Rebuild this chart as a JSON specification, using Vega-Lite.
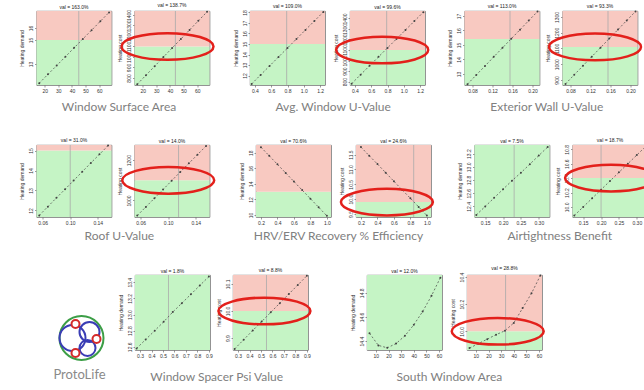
{
"$schema":"https://vega.github.io/schema/vega-lite/v6.json",
"background":"white",
"padding":{"left":18.5,"top":3,"right":0,"bottom":0},
"autosize":{"type":"pad"},
"config":{
 "font":"Liberation Sans",
 "view":{"stroke":"#555","strokeWidth":0.8},
 "axis":{"labelFontSize":5,"titleFontSize":5,"tickSize":2,"tickWidth":0.6,"grid":false,"domain":false,"labelColor":"#333","titleColor":"#333","tickColor":"#555","titleFontWeight":"normal","labelPadding":1,"titlePadding":2,"labelFlush":false,"labelOverlap":false,"tickCount":20,"labelFont":"Liberation Sans","titleFont":"Liberation Sans"},
 "axisY":{"labelAngle":-90,"labelAlign":"center","labelBaseline":"bottom","minExtent":10,"maxExtent":10},
 "title":{"fontSize":5,"fontWeight":"normal","offset":1,"color":"#222","font":"Liberation Sans"}
},
"datasets":{
"d":[
{"id":"p1","k":"b","band":"b","y":11.25,"y2":15},{"id":"p1","k":"b","band":"a","y":15,"y2":17.42},
{"id":"p2","k":"b","band":"b","y":733,"y2":1100},{"id":"p2","k":"b","band":"a","y":1100,"y2":1438},
{"id":"p3","k":"b","band":"b","y":11.1,"y2":15},{"id":"p3","k":"b","band":"a","y":15,"y2":18.14},
{"id":"p4","k":"b","band":"b","y":767,"y2":1100},{"id":"p4","k":"b","band":"a","y":1100,"y2":1471},
{"id":"p5","k":"b","band":"b","y":12.24,"y2":15.41},{"id":"p5","k":"b","band":"a","y":15.41,"y2":17.34},
{"id":"p6","k":"b","band":"b","y":868,"y2":1110},{"id":"p6","k":"b","band":"a","y":1110,"y2":1338},
{"id":"p7","k":"b","band":"b","y":11.67,"y2":15},{"id":"p7","k":"b","band":"a","y":15,"y2":15.28},
{"id":"p8","k":"b","band":"b","y":918,"y2":1100},{"id":"p8","k":"b","band":"a","y":1100,"y2":1275},
{"id":"p9","k":"b","band":"b","y":9.75,"y2":13},{"id":"p9","k":"b","band":"a","y":13,"y2":18.98},
{"id":"p10","k":"b","band":"b","y":9.4,"y2":9.9},{"id":"p10","k":"b","band":"a","y":9.9,"y2":11.82},
{"id":"p11","k":"b","band":"b","y":12.24,"y2":13.33},
{"id":"p12","k":"b","band":"b","y":9.86,"y2":10.4},{"id":"p12","k":"b","band":"a","y":10.4,"y2":10.86},
{"id":"p13","k":"b","band":"b","y":12.56,"y2":13.49},
{"id":"p14","k":"b","band":"b","y":9.856,"y2":10.0},{"id":"p14","k":"b","band":"a","y":10.0,"y2":10.133},
{"id":"p15","k":"b","band":"b","y":14.327,"y2":14.947},
{"id":"p16","k":"b","band":"b","y":9.862,"y2":10.0},{"id":"p16","k":"b","band":"a","y":10.0,"y2":10.415},
{"id":"p1","k":"v","x":45},{"id":"p2","k":"v","x":44},{"id":"p3","k":"v","x":0.79},{"id":"p4","k":"v","x":0.79},
{"id":"p5","k":"v","x":0.155},{"id":"p6","k":"v","x":0.155},{"id":"p7","k":"v","x":0.1},{"id":"p8","k":"v","x":0.115},
{"id":"p10","k":"v","x":0.84},{"id":"p11","k":"v","x":0.231},{"id":"p12","k":"v","x":0.2},{"id":"p13","k":"v","x":0.548},
{"id":"p14","k":"v","x":0.548},{"id":"p16","k":"v","x":33.5},
{"id":"p2","k":"e","x":38.2,"y":1100},{"id":"p4","k":"e","x":0.735,"y":1100},{"id":"p6","k":"e","x":0.129,"y":1110},
{"id":"p8","k":"e","x":0.1,"y":1100},{"id":"p10","k":"e","x":0.515,"y":9.9},{"id":"p12","k":"e","x":0.228,"y":10.4},
{"id":"p14","k":"e","x":0.53,"y":10.0},{"id":"p16","k":"e","x":27.3,"y":10.0},
{"id":"p1","k":"c","x":16,"y":11.4},{"id":"p1","k":"c","x":22.4,"y":12.14},{"id":"p1","k":"c","x":28.8,"y":12.87},{"id":"p1","k":"c","x":35.2,"y":13.61},{"id":"p1","k":"c","x":41.6,"y":14.35},{"id":"p1","k":"c","x":48,"y":15.09},{"id":"p1","k":"c","x":54.4,"y":15.82},{"id":"p1","k":"c","x":60.8,"y":16.56},{"id":"p1","k":"c","x":67.2,"y":17.3},
{"id":"p2","k":"c","x":16,"y":740},{"id":"p2","k":"c","x":22.4,"y":826},{"id":"p2","k":"c","x":28.8,"y":912},{"id":"p2","k":"c","x":35.2,"y":999},{"id":"p2","k":"c","x":41.6,"y":1085},{"id":"p2","k":"c","x":48,"y":1171},{"id":"p2","k":"c","x":54.4,"y":1258},{"id":"p2","k":"c","x":60.8,"y":1344},{"id":"p2","k":"c","x":67.2,"y":1430},
{"id":"p3","k":"c","x":0.36,"y":11.2},{"id":"p3","k":"c","x":0.47,"y":12.06},{"id":"p3","k":"c","x":0.58,"y":12.91},{"id":"p3","k":"c","x":0.69,"y":13.77},{"id":"p3","k":"c","x":0.8,"y":14.62},{"id":"p3","k":"c","x":0.91,"y":15.48},{"id":"p3","k":"c","x":1.02,"y":16.34},{"id":"p3","k":"c","x":1.13,"y":17.19},{"id":"p3","k":"c","x":1.24,"y":18.05},
{"id":"p4","k":"c","x":0.36,"y":780},{"id":"p4","k":"c","x":0.47,"y":865},{"id":"p4","k":"c","x":0.58,"y":950},{"id":"p4","k":"c","x":0.69,"y":1035},{"id":"p4","k":"c","x":0.8,"y":1120},{"id":"p4","k":"c","x":0.91,"y":1205},{"id":"p4","k":"c","x":1.02,"y":1290},{"id":"p4","k":"c","x":1.13,"y":1375},{"id":"p4","k":"c","x":1.24,"y":1460},
{"id":"p5","k":"c","x":0.07,"y":12.3},{"id":"p5","k":"c","x":0.0875,"y":12.93},{"id":"p5","k":"c","x":0.105,"y":13.55},{"id":"p5","k":"c","x":0.1225,"y":14.18},{"id":"p5","k":"c","x":0.14,"y":14.8},{"id":"p5","k":"c","x":0.1575,"y":15.43},{"id":"p5","k":"c","x":0.175,"y":16.05},{"id":"p5","k":"c","x":0.1925,"y":16.68},{"id":"p5","k":"c","x":0.21,"y":17.3},
{"id":"p6","k":"c","x":0.07,"y":875},{"id":"p6","k":"c","x":0.0875,"y":933},{"id":"p6","k":"c","x":0.105,"y":990},{"id":"p6","k":"c","x":0.1225,"y":1048},{"id":"p6","k":"c","x":0.14,"y":1105},{"id":"p6","k":"c","x":0.1575,"y":1163},{"id":"p6","k":"c","x":0.175,"y":1220},{"id":"p6","k":"c","x":0.1925,"y":1278},{"id":"p6","k":"c","x":0.21,"y":1335},
{"id":"p7","k":"c","x":0.055,"y":11.75},{"id":"p7","k":"c","x":0.0675,"y":12.19},{"id":"p7","k":"c","x":0.08,"y":12.63},{"id":"p7","k":"c","x":0.0925,"y":13.06},{"id":"p7","k":"c","x":0.105,"y":13.5},{"id":"p7","k":"c","x":0.1175,"y":13.94},{"id":"p7","k":"c","x":0.13,"y":14.38},{"id":"p7","k":"c","x":0.1425,"y":14.81},{"id":"p7","k":"c","x":0.155,"y":15.25},
{"id":"p8","k":"c","x":0.055,"y":925},{"id":"p8","k":"c","x":0.0675,"y":968},{"id":"p8","k":"c","x":0.08,"y":1011},{"id":"p8","k":"c","x":0.0925,"y":1054},{"id":"p8","k":"c","x":0.105,"y":1098},{"id":"p8","k":"c","x":0.1175,"y":1141},{"id":"p8","k":"c","x":0.13,"y":1184},{"id":"p8","k":"c","x":0.1425,"y":1227},{"id":"p8","k":"c","x":0.155,"y":1270},
{"id":"p9","k":"c","x":0.2,"y":18.7},{"id":"p9","k":"c","x":0.3,"y":17.6},{"id":"p9","k":"c","x":0.4,"y":16.5},{"id":"p9","k":"c","x":0.5,"y":15.4},{"id":"p9","k":"c","x":0.6,"y":14.3},{"id":"p9","k":"c","x":0.7,"y":13.2},{"id":"p9","k":"c","x":0.8,"y":12.1},{"id":"p9","k":"c","x":0.9,"y":11.0},{"id":"p9","k":"c","x":1.0,"y":9.9},
{"id":"p10","k":"c","x":0.2,"y":11.75},{"id":"p10","k":"c","x":0.3,"y":11.46},{"id":"p10","k":"c","x":0.4,"y":11.18},{"id":"p10","k":"c","x":0.5,"y":10.89},{"id":"p10","k":"c","x":0.6,"y":10.6},{"id":"p10","k":"c","x":0.7,"y":10.31},{"id":"p10","k":"c","x":0.8,"y":10.03},{"id":"p10","k":"c","x":0.9,"y":9.74},{"id":"p10","k":"c","x":1.0,"y":9.45},
{"id":"p11","k":"c","x":0.125,"y":12.27},{"id":"p11","k":"c","x":0.15,"y":12.4},{"id":"p11","k":"c","x":0.175,"y":12.53},{"id":"p11","k":"c","x":0.2,"y":12.66},{"id":"p11","k":"c","x":0.225,"y":12.79},{"id":"p11","k":"c","x":0.25,"y":12.91},{"id":"p11","k":"c","x":0.275,"y":13.04},{"id":"p11","k":"c","x":0.3,"y":13.17},{"id":"p11","k":"c","x":0.325,"y":13.3},
{"id":"p12","k":"c","x":0.125,"y":9.88},{"id":"p12","k":"c","x":0.15,"y":10.0},{"id":"p12","k":"c","x":0.175,"y":10.12},{"id":"p12","k":"c","x":0.2,"y":10.24},{"id":"p12","k":"c","x":0.225,"y":10.36},{"id":"p12","k":"c","x":0.25,"y":10.48},{"id":"p12","k":"c","x":0.275,"y":10.6},{"id":"p12","k":"c","x":0.3,"y":10.72},{"id":"p12","k":"c","x":0.325,"y":10.84},
{"id":"p13","k":"c","x":0.27,"y":12.58},{"id":"p13","k":"c","x":0.349,"y":12.69},{"id":"p13","k":"c","x":0.428,"y":12.8},{"id":"p13","k":"c","x":0.506,"y":12.91},{"id":"p13","k":"c","x":0.585,"y":13.03},{"id":"p13","k":"c","x":0.664,"y":13.14},{"id":"p13","k":"c","x":0.743,"y":13.25},{"id":"p13","k":"c","x":0.821,"y":13.36},{"id":"p13","k":"c","x":0.9,"y":13.47},
{"id":"p14","k":"c","x":0.27,"y":9.86},{"id":"p14","k":"c","x":0.349,"y":9.894},{"id":"p14","k":"c","x":0.428,"y":9.928},{"id":"p14","k":"c","x":0.506,"y":9.961},{"id":"p14","k":"c","x":0.585,"y":9.995},{"id":"p14","k":"c","x":0.664,"y":10.029},{"id":"p14","k":"c","x":0.743,"y":10.063},{"id":"p14","k":"c","x":0.821,"y":10.096},{"id":"p14","k":"c","x":0.9,"y":10.13},
{"id":"p15","k":"c","x":5,"y":14.465},{"id":"p15","k":"c","x":12,"y":14.365},{"id":"p15","k":"c","x":19,"y":14.345},{"id":"p15","k":"c","x":26,"y":14.38},{"id":"p15","k":"c","x":33,"y":14.445},{"id":"p15","k":"c","x":40,"y":14.535},{"id":"p15","k":"c","x":47,"y":14.645},{"id":"p15","k":"c","x":54,"y":14.775},{"id":"p15","k":"c","x":61,"y":14.925},
{"id":"p16","k":"c","x":5,"y":9.876},{"id":"p16","k":"c","x":12,"y":9.909},{"id":"p16","k":"c","x":19,"y":9.942},{"id":"p16","k":"c","x":26,"y":9.975},{"id":"p16","k":"c","x":33,"y":10.004},{"id":"p16","k":"c","x":40,"y":10.062},{"id":"p16","k":"c","x":47,"y":10.171},{"id":"p16","k":"c","x":54,"y":10.28},{"id":"p16","k":"c","x":61,"y":10.411}
],
"logo":[
{"k":"ring","part":"outer","x":45,"y":63,"r":22},
{"k":"ring","part":"inner","x":36,"y":63,"r":13},
{"k":"ring","part":"inner","x":53,"y":57,"r":10},
{"k":"ring","part":"inner","x":51,"y":73,"r":8},
{"k":"node","part":"node","x":39,"y":49,"r":4},
{"k":"node","part":"node","x":60,"y":64,"r":4},
{"k":"node","part":"node","x":39,"y":78,"r":4},
{"k":"label","x":43,"y":100,"t":"ProtoLife"}
]
},
"vconcat":[
{"vconcat":[
{"hconcat":[
{"title":{"text":"Window Surface Area","orient":"bottom","anchor":"middle","fontSize":12,"font":"Lato","color":"#808080","fontWeight":"normal","offset":8.5},
 "hconcat":[
{"width":75,"height":74,"title":"val = 163.0%","data":{"name":"d"},"transform":[{"filter":"datum.id=='p1'"}],"layer":[
{"transform":[{"filter":"datum.k=='b'"}],"mark":"rect","encoding":{"y":{"field":"y","type":"quantitative","scale":{"domain":[11.25,17.42],"nice":false,"zero":false},"axis":{"values":[13,15,16],"format":"d","labelOverlap":false,"tickCount":20},"title":"Heating demand"},"y2":{"field":"y2"},"color":{"field":"band","type":"nominal","scale":{"domain":["a","b"],"range":["#f8c9c1","#c5f4c5"]},"legend":null}}},
{"transform":[{"filter":"datum.k=='v'"}],"mark":{"type":"rule","color":"#aaa","strokeWidth":0.8},"encoding":{"x":{"field":"x","type":"quantitative","title":null}}},
{"transform":[{"filter":"datum.k=='c'"}],"mark":{"type":"line","color":"#444","strokeWidth":0.7,"strokeDash":[2,2],"point":{"color":"#444","size":4,"filled":true,"opacity":1}},"encoding":{"x":{"field":"x","type":"quantitative","scale":{"domain":[14,69],"nice":false,"zero":false},"axis":{"values":[20,30,40,50,60],"format":"d","labelOverlap":false,"tickCount":20},"title":null},"y":{"field":"y","type":"quantitative","title":"Heating demand"}}}
]},
{"width":75,"height":74,"title":"val = 138.7%","data":{"name":"d"},"transform":[{"filter":"datum.id=='p2'"}],"layer":[
{"transform":[{"filter":"datum.k=='b'"}],"mark":"rect","encoding":{"y":{"field":"y","type":"quantitative","scale":{"domain":[733,1438],"nice":false,"zero":false},"axis":{"values":[800,900,1000,1100,1200,1300,1400],"format":"d","labelOverlap":false,"tickCount":20},"title":"Heating cost"},"y2":{"field":"y2"},"color":{"field":"band","type":"nominal","scale":{"domain":["a","b"],"range":["#f8c9c1","#c5f4c5"]},"legend":null}}},
{"transform":[{"filter":"datum.k=='v'"}],"mark":{"type":"rule","color":"#aaa","strokeWidth":0.8},"encoding":{"x":{"field":"x","type":"quantitative","title":null}}},
{"transform":[{"filter":"datum.k=='c'"}],"mark":{"type":"line","color":"#444","strokeWidth":0.7,"strokeDash":[2,2],"point":{"color":"#444","size":4,"filled":true,"opacity":1}},"encoding":{"x":{"field":"x","type":"quantitative","scale":{"domain":[14,69],"nice":false,"zero":false},"axis":{"values":[20,30,40,50,60],"format":"d","labelOverlap":false,"tickCount":20},"title":null},"y":{"field":"y","type":"quantitative","title":"Heating cost"}}},
{"transform":[{"filter":"datum.k=='e'"}],"mark":{"type":"point","shape":"M-1,0A1,0.29,0,1,1,1,0A1,0.29,0,1,1,-1,0Z","size":8464,"stroke":"#e3201b","strokeWidth":2.5,"filled":false,"opacity":1},"encoding":{"x":{"field":"x","type":"quantitative","title":null},"y":{"field":"y","type":"quantitative","title":"Heating cost"}}}
]}
 ],"spacing":23,"bounds":"flush"},
{"title":{"text":"Avg. Window U-Value","orient":"bottom","anchor":"middle","fontSize":12,"font":"Lato","color":"#808080","fontWeight":"normal","offset":8.5},
 "hconcat":[
{"width":75,"height":74,"title":"val = 109.0%","data":{"name":"d"},"transform":[{"filter":"datum.id=='p3'"}],"layer":[
{"transform":[{"filter":"datum.k=='b'"}],"mark":"rect","encoding":{"y":{"field":"y","type":"quantitative","scale":{"domain":[11.1,18.14],"nice":false,"zero":false},"axis":{"values":[12,13,14,15,16,17,18],"format":"d","labelOverlap":false,"tickCount":20},"title":"Heating demand"},"y2":{"field":"y2"},"color":{"field":"band","type":"nominal","scale":{"domain":["a","b"],"range":["#f8c9c1","#c5f4c5"]},"legend":null}}},
{"transform":[{"filter":"datum.k=='v'"}],"mark":{"type":"rule","color":"#aaa","strokeWidth":0.8},"encoding":{"x":{"field":"x","type":"quantitative","title":null}}},
{"transform":[{"filter":"datum.k=='c'"}],"mark":{"type":"line","color":"#444","strokeWidth":0.7,"strokeDash":[2,2],"point":{"color":"#444","size":4,"filled":true,"opacity":1}},"encoding":{"x":{"field":"x","type":"quantitative","scale":{"domain":[0.34,1.26],"nice":false,"zero":false},"axis":{"values":[0.4,0.6,0.8,1.0,1.2],"format":".1f","labelOverlap":false,"tickCount":20},"title":null},"y":{"field":"y","type":"quantitative","title":"Heating demand"}}}
]},
{"width":75,"height":74,"title":"val = 99.6%","data":{"name":"d"},"transform":[{"filter":"datum.id=='p4'"}],"layer":[
{"transform":[{"filter":"datum.k=='b'"}],"mark":"rect","encoding":{"y":{"field":"y","type":"quantitative","scale":{"domain":[767,1471],"nice":false,"zero":false},"axis":{"values":[800,900,1000,1100,1200,1300,1400],"format":"d","labelOverlap":false,"tickCount":20},"title":"Heating cost"},"y2":{"field":"y2"},"color":{"field":"band","type":"nominal","scale":{"domain":["a","b"],"range":["#f8c9c1","#c5f4c5"]},"legend":null}}},
{"transform":[{"filter":"datum.k=='v'"}],"mark":{"type":"rule","color":"#aaa","strokeWidth":0.8},"encoding":{"x":{"field":"x","type":"quantitative","title":null}}},
{"transform":[{"filter":"datum.k=='c'"}],"mark":{"type":"line","color":"#444","strokeWidth":0.7,"strokeDash":[2,2],"point":{"color":"#444","size":4,"filled":true,"opacity":1}},"encoding":{"x":{"field":"x","type":"quantitative","scale":{"domain":[0.34,1.26],"nice":false,"zero":false},"axis":{"values":[0.4,0.6,0.8,1.0,1.2],"format":".1f","labelOverlap":false,"tickCount":20},"title":null},"y":{"field":"y","type":"quantitative","title":"Heating cost"}}},
{"transform":[{"filter":"datum.k=='e'"}],"mark":{"type":"point","shape":"M-1,0A1,0.29,0,1,1,1,0A1,0.29,0,1,1,-1,0Z","size":8464,"stroke":"#e3201b","strokeWidth":2.5,"filled":false,"opacity":1},"encoding":{"x":{"field":"x","type":"quantitative","title":null},"y":{"field":"y","type":"quantitative","title":"Heating cost"}}}
]}
 ],"spacing":25,"bounds":"flush"},
{"title":{"text":"Exterior Wall U-Value","orient":"bottom","anchor":"middle","fontSize":12,"font":"Lato","color":"#808080","fontWeight":"normal","offset":8.5},
 "hconcat":[
{"width":75,"height":74,"title":"val = 113.0%","data":{"name":"d"},"transform":[{"filter":"datum.id=='p5'"}],"layer":[
{"transform":[{"filter":"datum.k=='b'"}],"mark":"rect","encoding":{"y":{"field":"y","type":"quantitative","scale":{"domain":[12.24,17.34],"nice":false,"zero":false},"axis":{"values":[13,14,15,16,17],"format":"d","labelOverlap":false,"tickCount":20},"title":"Heating demand"},"y2":{"field":"y2"},"color":{"field":"band","type":"nominal","scale":{"domain":["a","b"],"range":["#f8c9c1","#c5f4c5"]},"legend":null}}},
{"transform":[{"filter":"datum.k=='v'"}],"mark":{"type":"rule","color":"#aaa","strokeWidth":0.8},"encoding":{"x":{"field":"x","type":"quantitative","title":null}}},
{"transform":[{"filter":"datum.k=='c'"}],"mark":{"type":"line","color":"#444","strokeWidth":0.7,"strokeDash":[2,2],"point":{"color":"#444","size":4,"filled":true,"opacity":1}},"encoding":{"x":{"field":"x","type":"quantitative","scale":{"domain":[0.064,0.214],"nice":false,"zero":false},"axis":{"values":[0.08,0.12,0.16,0.2],"format":".2f","labelOverlap":false,"tickCount":20},"title":null},"y":{"field":"y","type":"quantitative","title":"Heating demand"}}}
]},
{"width":75,"height":74,"title":"val = 93.3%","data":{"name":"d"},"transform":[{"filter":"datum.id=='p6'"}],"layer":[
{"transform":[{"filter":"datum.k=='b'"}],"mark":"rect","encoding":{"y":{"field":"y","type":"quantitative","scale":{"domain":[868,1338],"nice":false,"zero":false},"axis":{"values":[900,1000,1100,1200,1300],"format":"d","labelOverlap":false,"tickCount":20},"title":"Heating cost"},"y2":{"field":"y2"},"color":{"field":"band","type":"nominal","scale":{"domain":["a","b"],"range":["#f8c9c1","#c5f4c5"]},"legend":null}}},
{"transform":[{"filter":"datum.k=='v'"}],"mark":{"type":"rule","color":"#aaa","strokeWidth":0.8},"encoding":{"x":{"field":"x","type":"quantitative","title":null}}},
{"transform":[{"filter":"datum.k=='c'"}],"mark":{"type":"line","color":"#444","strokeWidth":0.7,"strokeDash":[2,2],"point":{"color":"#444","size":4,"filled":true,"opacity":1}},"encoding":{"x":{"field":"x","type":"quantitative","scale":{"domain":[0.064,0.214],"nice":false,"zero":false},"axis":{"values":[0.08,0.12,0.16,0.2],"format":".2f","labelOverlap":false,"tickCount":20},"title":null},"y":{"field":"y","type":"quantitative","title":"Heating cost"}}},
{"transform":[{"filter":"datum.k=='e'"}],"mark":{"type":"point","shape":"M-1,0A1,0.29,0,1,1,1,0A1,0.29,0,1,1,-1,0Z","size":8464,"stroke":"#e3201b","strokeWidth":2.5,"filled":false,"opacity":1},"encoding":{"x":{"field":"x","type":"quantitative","title":null},"y":{"field":"y","type":"quantitative","title":"Heating cost"}}}
]}
 ],"spacing":23,"bounds":"flush"}
],"spacing":12.5},
{"hconcat":[
{"title":{"text":"Roof U-Value","orient":"bottom","anchor":"middle","fontSize":12,"font":"Lato","color":"#808080","fontWeight":"normal","offset":5.5},
 "hconcat":[
{"width":75,"height":72,"title":"val = 31.0%","data":{"name":"d"},"transform":[{"filter":"datum.id=='p7'"}],"layer":[
{"transform":[{"filter":"datum.k=='b'"}],"mark":"rect","encoding":{"y":{"field":"y","type":"quantitative","scale":{"domain":[11.67,15.28],"nice":false,"zero":false},"axis":{"values":[12,13,14,15],"format":"d","labelOverlap":false,"tickCount":20},"title":"Heating demand"},"y2":{"field":"y2"},"color":{"field":"band","type":"nominal","scale":{"domain":["a","b"],"range":["#f8c9c1","#c5f4c5"]},"legend":null}}},
{"transform":[{"filter":"datum.k=='v'"}],"mark":{"type":"rule","color":"#aaa","strokeWidth":0.8},"encoding":{"x":{"field":"x","type":"quantitative","title":null}}},
{"transform":[{"filter":"datum.k=='c'"}],"mark":{"type":"line","color":"#444","strokeWidth":0.7,"strokeDash":[2,2],"point":{"color":"#444","size":4,"filled":true,"opacity":1}},"encoding":{"x":{"field":"x","type":"quantitative","scale":{"domain":[0.051,0.16],"nice":false,"zero":false},"axis":{"values":[0.06,0.1,0.14],"format":".2f","labelOverlap":false,"tickCount":20},"title":null},"y":{"field":"y","type":"quantitative","title":"Heating demand"}}}
]},
{"width":75,"height":72,"title":"val = 14.0%","data":{"name":"d"},"transform":[{"filter":"datum.id=='p8'"}],"layer":[
{"transform":[{"filter":"datum.k=='b'"}],"mark":"rect","encoding":{"y":{"field":"y","type":"quantitative","scale":{"domain":[918,1275],"nice":false,"zero":false},"axis":{"values":[1000,1200],"format":"d","labelOverlap":false,"tickCount":20},"title":"Heating cost"},"y2":{"field":"y2"},"color":{"field":"band","type":"nominal","scale":{"domain":["a","b"],"range":["#f8c9c1","#c5f4c5"]},"legend":null}}},
{"transform":[{"filter":"datum.k=='v'"}],"mark":{"type":"rule","color":"#aaa","strokeWidth":0.8},"encoding":{"x":{"field":"x","type":"quantitative","title":null}}},
{"transform":[{"filter":"datum.k=='c'"}],"mark":{"type":"line","color":"#444","strokeWidth":0.7,"strokeDash":[2,2],"point":{"color":"#444","size":4,"filled":true,"opacity":1}},"encoding":{"x":{"field":"x","type":"quantitative","scale":{"domain":[0.051,0.16],"nice":false,"zero":false},"axis":{"values":[0.06,0.1,0.14],"format":".2f","labelOverlap":false,"tickCount":20},"title":null},"y":{"field":"y","type":"quantitative","title":"Heating cost"}}},
{"transform":[{"filter":"datum.k=='e'"}],"mark":{"type":"point","shape":"M-1,0A1,0.29,0,1,1,1,0A1,0.29,0,1,1,-1,0Z","size":8464,"stroke":"#e3201b","strokeWidth":2.5,"filled":false,"opacity":1},"encoding":{"x":{"field":"x","type":"quantitative","title":null},"y":{"field":"y","type":"quantitative","title":"Heating cost"}}}
]}
 ],"spacing":23,"bounds":"flush"},
{"title":{"text":"HRV/ERV Recovery % Efficiency","orient":"bottom","anchor":"middle","fontSize":12,"font":"Lato","color":"#808080","fontWeight":"normal","offset":5.5},
 "hconcat":[
{"width":75,"height":72,"title":"val = 70.6%","data":{"name":"d"},"transform":[{"filter":"datum.id=='p9'"}],"layer":[
{"transform":[{"filter":"datum.k=='b'"}],"mark":"rect","encoding":{"y":{"field":"y","type":"quantitative","scale":{"domain":[9.75,18.98],"nice":false,"zero":false},"axis":{"values":[10,12,14,16,18],"format":"d","labelOverlap":false,"tickCount":20},"title":"Heating demand"},"y2":{"field":"y2"},"color":{"field":"band","type":"nominal","scale":{"domain":["a","b"],"range":["#f8c9c1","#c5f4c5"]},"legend":null}}},
{"transform":[{"filter":"datum.k=='c'"}],"mark":{"type":"line","color":"#444","strokeWidth":0.7,"strokeDash":[2,2],"point":{"color":"#444","size":4,"filled":true,"opacity":1}},"encoding":{"x":{"field":"x","type":"quantitative","scale":{"domain":[0.14,1.05],"nice":false,"zero":false},"axis":{"values":[0.2,0.4,0.6,0.8,1.0],"format":".1f","labelOverlap":false,"tickCount":20},"title":null},"y":{"field":"y","type":"quantitative","title":"Heating demand"}}}
]},
{"width":75,"height":72,"title":"val = 24.6%","data":{"name":"d"},"transform":[{"filter":"datum.id=='p10'"}],"layer":[
{"transform":[{"filter":"datum.k=='b'"}],"mark":"rect","encoding":{"y":{"field":"y","type":"quantitative","scale":{"domain":[9.4,11.82],"nice":false,"zero":false},"axis":{"values":[9.5,10,10.5,11,11.5],"format":".1f","labelOverlap":false,"tickCount":20},"title":"Heating cost"},"y2":{"field":"y2"},"color":{"field":"band","type":"nominal","scale":{"domain":["a","b"],"range":["#f8c9c1","#c5f4c5"]},"legend":null}}},
{"transform":[{"filter":"datum.k=='v'"}],"mark":{"type":"rule","color":"#aaa","strokeWidth":0.8},"encoding":{"x":{"field":"x","type":"quantitative","title":null}}},
{"transform":[{"filter":"datum.k=='c'"}],"mark":{"type":"line","color":"#444","strokeWidth":0.7,"strokeDash":[2,2],"point":{"color":"#444","size":4,"filled":true,"opacity":1}},"encoding":{"x":{"field":"x","type":"quantitative","scale":{"domain":[0.14,1.05],"nice":false,"zero":false},"axis":{"values":[0.2,0.4,0.6,0.8,1.0],"format":".1f","labelOverlap":false,"tickCount":20},"title":null},"y":{"field":"y","type":"quantitative","title":"Heating cost"}}},
{"transform":[{"filter":"datum.k=='e'"}],"mark":{"type":"point","shape":"M-1,0A1,0.29,0,1,1,1,0A1,0.29,0,1,1,-1,0Z","size":8464,"stroke":"#e3201b","strokeWidth":2.5,"filled":false,"opacity":1},"encoding":{"x":{"field":"x","type":"quantitative","title":null},"y":{"field":"y","type":"quantitative","title":"Heating cost"}}}
]}
 ],"spacing":25,"bounds":"flush"},
{"title":{"text":"Airtightness Benefit","orient":"bottom","anchor":"middle","fontSize":12,"font":"Lato","color":"#808080","fontWeight":"normal","offset":5.5},
 "hconcat":[
{"width":75,"height":72,"title":"val = 7.5%","data":{"name":"d"},"transform":[{"filter":"datum.id=='p11'"}],"layer":[
{"transform":[{"filter":"datum.k=='b'"}],"mark":"rect","encoding":{"y":{"field":"y","type":"quantitative","scale":{"domain":[12.24,13.33],"nice":false,"zero":false},"axis":{"values":[12.4,12.6,12.8,13.0,13.2],"format":".1f","labelOverlap":false,"tickCount":20},"title":"Heating demand"},"y2":{"field":"y2"},"color":{"field":"band","type":"nominal","scale":{"domain":["a","b"],"range":["#f8c9c1","#c5f4c5"]},"legend":null}}},
{"transform":[{"filter":"datum.k=='v'"}],"mark":{"type":"rule","color":"#aaa","strokeWidth":0.8},"encoding":{"x":{"field":"x","type":"quantitative","title":null}}},
{"transform":[{"filter":"datum.k=='c'"}],"mark":{"type":"line","color":"#444","strokeWidth":0.7,"strokeDash":[2,2],"point":{"color":"#444","size":4,"filled":true,"opacity":1}},"encoding":{"x":{"field":"x","type":"quantitative","scale":{"domain":[0.12,0.33],"nice":false,"zero":false},"axis":{"values":[0.15,0.2,0.25,0.3],"format":".2f","labelOverlap":false,"tickCount":20},"title":null},"y":{"field":"y","type":"quantitative","title":"Heating demand"}}}
]},
{"width":75,"height":72,"title":"val = 18.7%","data":{"name":"d"},"transform":[{"filter":"datum.id=='p12'"}],"layer":[
{"transform":[{"filter":"datum.k=='b'"}],"mark":"rect","encoding":{"y":{"field":"y","type":"quantitative","scale":{"domain":[9.86,10.86],"nice":false,"zero":false},"axis":{"values":[10.0,10.2,10.4,10.6,10.8],"format":".1f","labelOverlap":false,"tickCount":20},"title":"Heating cost"},"y2":{"field":"y2"},"color":{"field":"band","type":"nominal","scale":{"domain":["a","b"],"range":["#f8c9c1","#c5f4c5"]},"legend":null}}},
{"transform":[{"filter":"datum.k=='v'"}],"mark":{"type":"rule","color":"#aaa","strokeWidth":0.8},"encoding":{"x":{"field":"x","type":"quantitative","title":null}}},
{"transform":[{"filter":"datum.k=='c'"}],"mark":{"type":"line","color":"#444","strokeWidth":0.7,"strokeDash":[2,2],"point":{"color":"#444","size":4,"filled":true,"opacity":1}},"encoding":{"x":{"field":"x","type":"quantitative","scale":{"domain":[0.12,0.33],"nice":false,"zero":false},"axis":{"values":[0.15,0.2,0.25,0.3],"format":".2f","labelOverlap":false,"tickCount":20},"title":null},"y":{"field":"y","type":"quantitative","title":"Heating cost"}}},
{"transform":[{"filter":"datum.k=='e'"}],"mark":{"type":"point","shape":"M-1,0A1,0.29,0,1,1,1,0A1,0.29,0,1,1,-1,0Z","size":8464,"stroke":"#e3201b","strokeWidth":2.5,"filled":false,"opacity":1},"encoding":{"x":{"field":"x","type":"quantitative","title":null},"y":{"field":"y","type":"quantitative","title":"Heating cost"}}}
]}
 ],"spacing":23,"bounds":"flush"}
],"spacing":17.5}
],"spacing":24},
{"hconcat":[
{"hconcat":[
{"width":75,"height":75,"view":{"stroke":null},"data":{"name":"logo"},"layer":[
{"transform":[{"filter":"datum.k=='ring'"}],"mark":{"type":"point","filled":false,"strokeWidth":2,"opacity":1},"encoding":{"x":{"field":"x","type":"quantitative","scale":{"domain":[0,75],"nice":false,"zero":false},"axis":null},"y":{"field":"y","type":"quantitative","scale":{"domain":[0,75],"reverse":true,"nice":false,"zero":false},"axis":null},"size":{"field":"r","type":"quantitative","scale":{"type":"pow","exponent":2,"domain":[0,22],"range":[0,1936]},"legend":null},"stroke":{"field":"part","type":"nominal","scale":{"domain":["outer","inner","node"],"range":["#3c9e46","#3a3db5","#d42a2a"]},"legend":null}}},
{"transform":[{"filter":"datum.k=='node'"}],"mark":{"type":"point","filled":true,"fill":"white","strokeWidth":2,"opacity":1},"encoding":{"x":{"field":"x","type":"quantitative","axis":null},"y":{"field":"y","type":"quantitative","axis":null},"size":{"field":"r","type":"quantitative","legend":null},"stroke":{"field":"part","type":"nominal","legend":null}}},
{"transform":[{"filter":"datum.k=='label'"}],"mark":{"type":"text","font":"Lato","fontSize":13,"color":"#8a8a8a"},"encoding":{"x":{"field":"x","type":"quantitative","axis":null},"y":{"field":"y","type":"quantitative","axis":null},"text":{"field":"t"}}}
]},
{"title":{"text":"Window Spacer Psi Value","orient":"bottom","anchor":"middle","fontSize":12,"font":"Lato","color":"#808080","fontWeight":"normal","offset":13.5},
 "hconcat":[
{"width":75,"height":75,"title":"val = 1.8%","data":{"name":"d"},"transform":[{"filter":"datum.id=='p13'"}],"layer":[
{"transform":[{"filter":"datum.k=='b'"}],"mark":"rect","encoding":{"y":{"field":"y","type":"quantitative","scale":{"domain":[12.56,13.49],"nice":false,"zero":false},"axis":{"values":[12.6,12.8,13.0,13.2,13.4],"format":".1f","labelOverlap":false,"tickCount":20},"title":"Heating demand"},"y2":{"field":"y2"},"color":{"field":"band","type":"nominal","scale":{"domain":["a","b"],"range":["#f8c9c1","#c5f4c5"]},"legend":null}}},
{"transform":[{"filter":"datum.k=='v'"}],"mark":{"type":"rule","color":"#aaa","strokeWidth":0.8},"encoding":{"x":{"field":"x","type":"quantitative","title":null}}},
{"transform":[{"filter":"datum.k=='c'"}],"mark":{"type":"line","color":"#444","strokeWidth":0.7,"strokeDash":[2,2],"point":{"color":"#444","size":4,"filled":true,"opacity":1}},"encoding":{"x":{"field":"x","type":"quantitative","scale":{"domain":[0.256,0.91],"nice":false,"zero":false},"axis":{"values":[0.3,0.4,0.5,0.6,0.7,0.8,0.9],"format":".1f","labelOverlap":false,"tickCount":20},"title":null},"y":{"field":"y","type":"quantitative","title":"Heating demand"}}}
]},
{"width":75,"height":75,"title":"val = 8.8%","data":{"name":"d"},"transform":[{"filter":"datum.id=='p14'"}],"layer":[
{"transform":[{"filter":"datum.k=='b'"}],"mark":"rect","encoding":{"y":{"field":"y","type":"quantitative","scale":{"domain":[9.856,10.133],"nice":false,"zero":false},"axis":{"values":[9.9,10.0,10.1],"format":".1f","labelOverlap":false,"tickCount":20},"title":"Heating cost"},"y2":{"field":"y2"},"color":{"field":"band","type":"nominal","scale":{"domain":["a","b"],"range":["#f8c9c1","#c5f4c5"]},"legend":null}}},
{"transform":[{"filter":"datum.k=='v'"}],"mark":{"type":"rule","color":"#aaa","strokeWidth":0.8},"encoding":{"x":{"field":"x","type":"quantitative","title":null}}},
{"transform":[{"filter":"datum.k=='c'"}],"mark":{"type":"line","color":"#444","strokeWidth":0.7,"strokeDash":[2,2],"point":{"color":"#444","size":4,"filled":true,"opacity":1}},"encoding":{"x":{"field":"x","type":"quantitative","scale":{"domain":[0.256,0.91],"nice":false,"zero":false},"axis":{"values":[0.3,0.4,0.5,0.6,0.7,0.8,0.9],"format":".1f","labelOverlap":false,"tickCount":20},"title":null},"y":{"field":"y","type":"quantitative","title":"Heating cost"}}},
{"transform":[{"filter":"datum.k=='e'"}],"mark":{"type":"point","shape":"M-1,0A1,0.29,0,1,1,1,0A1,0.29,0,1,1,-1,0Z","size":8464,"stroke":"#e3201b","strokeWidth":2.5,"filled":false,"opacity":1},"encoding":{"x":{"field":"x","type":"quantitative","title":null},"y":{"field":"y","type":"quantitative","title":"Heating cost"}}}
]}
 ],"spacing":23,"bounds":"flush"}
],"spacing":5.5},
{"title":{"text":"South Window Area","orient":"bottom","anchor":"middle","fontSize":12,"font":"Lato","color":"#808080","fontWeight":"normal","offset":13.5},
 "hconcat":[
{"width":75,"height":75,"title":"val = 12.0%","data":{"name":"d"},"transform":[{"filter":"datum.id=='p15'"}],"layer":[
{"transform":[{"filter":"datum.k=='b'"}],"mark":"rect","encoding":{"y":{"field":"y","type":"quantitative","scale":{"domain":[14.327,14.947],"nice":false,"zero":false},"axis":{"values":[14.4,14.6,14.8],"format":".1f","labelOverlap":false,"tickCount":20},"title":"Heating demand"},"y2":{"field":"y2"},"color":{"field":"band","type":"nominal","scale":{"domain":["a","b"],"range":["#f8c9c1","#c5f4c5"]},"legend":null}}},
{"transform":[{"filter":"datum.k=='c'"}],"mark":{"type":"line","color":"#444","strokeWidth":0.7,"strokeDash":[2,2],"point":{"color":"#444","size":4,"filled":true,"opacity":1}},"encoding":{"x":{"field":"x","type":"quantitative","scale":{"domain":[3,62.3],"nice":false,"zero":false},"axis":{"values":[10,20,30,40,50,60],"format":"d","labelOverlap":false,"tickCount":20},"title":null},"y":{"field":"y","type":"quantitative","title":"Heating demand"}}}
]},
{"width":75,"height":75,"title":"val = 28.8%","data":{"name":"d"},"transform":[{"filter":"datum.id=='p16'"}],"layer":[
{"transform":[{"filter":"datum.k=='b'"}],"mark":"rect","encoding":{"y":{"field":"y","type":"quantitative","scale":{"domain":[9.862,10.415],"nice":false,"zero":false},"axis":{"values":[10.0,10.2,10.4],"format":".1f","labelOverlap":false,"tickCount":20},"title":"Heating cost"},"y2":{"field":"y2"},"color":{"field":"band","type":"nominal","scale":{"domain":["a","b"],"range":["#f8c9c1","#c5f4c5"]},"legend":null}}},
{"transform":[{"filter":"datum.k=='v'"}],"mark":{"type":"rule","color":"#aaa","strokeWidth":0.8},"encoding":{"x":{"field":"x","type":"quantitative","title":null}}},
{"transform":[{"filter":"datum.k=='c'"}],"mark":{"type":"line","color":"#444","strokeWidth":0.7,"strokeDash":[2,2],"point":{"color":"#444","size":4,"filled":true,"opacity":1}},"encoding":{"x":{"field":"x","type":"quantitative","scale":{"domain":[3,62.3],"nice":false,"zero":false},"axis":{"values":[10,20,30,40,50,60],"format":"d","labelOverlap":false,"tickCount":20},"title":null},"y":{"field":"y","type":"quantitative","title":"Heating cost"}}},
{"transform":[{"filter":"datum.k=='e'"}],"mark":{"type":"point","shape":"M-1,0A1,0.29,0,1,1,1,0A1,0.29,0,1,1,-1,0Z","size":8464,"stroke":"#e3201b","strokeWidth":2.5,"filled":false,"opacity":1},"encoding":{"x":{"field":"x","type":"quantitative","title":null},"y":{"field":"y","type":"quantitative","title":"Heating cost"}}}
]}
 ],"spacing":25,"bounds":"flush"}
],"spacing":32.5}
],
"spacing":23
}
